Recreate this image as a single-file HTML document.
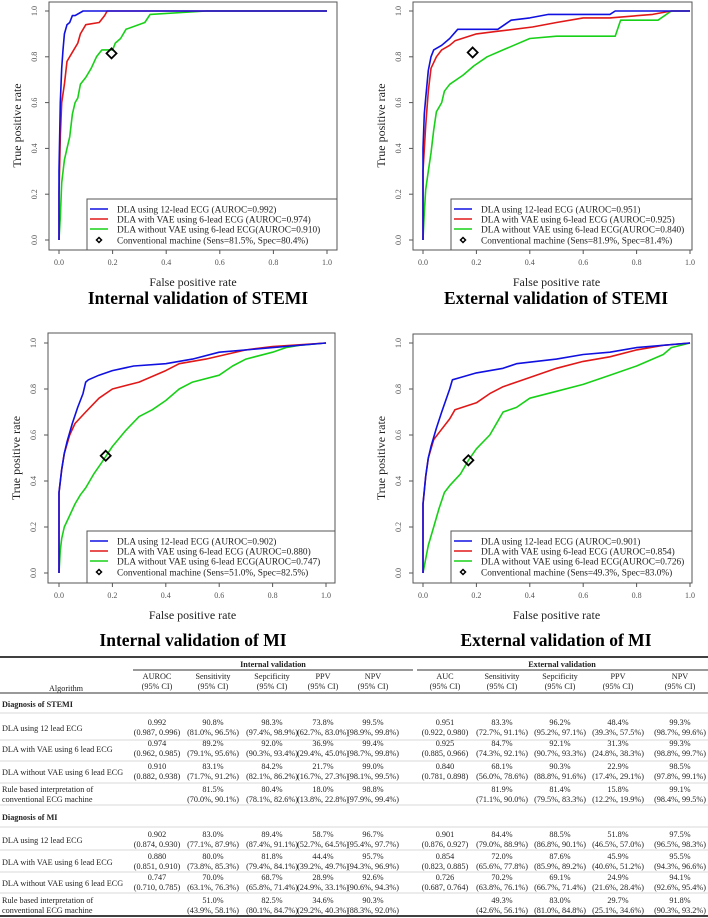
<!DOCTYPE html>
<html><head><meta charset="utf-8"><style>
html,body{margin:0;padding:0;background:#fff;}
svg{display:block;font-family:"Liberation Serif",serif;}
</style></head><body>
<svg id="root" width="708" height="918" viewBox="0 0 708 918"></svg>
<script>
// ---- Chart data (FPR / TPR arrays per series) ----
const c1BlueX=[0,0,0.005,0.01,0.015,0.02,0.03,0.04,0.05,0.06,0.09,0.18,1];
const c1BlueY=[0,0.3,0.6,0.75,0.83,0.9,0.94,0.95,0.98,0.98,1,1,1];
const c1RedX=[0,0,0.005,0.01,0.02,0.03,0.05,0.07,0.08,0.1,0.15,0.17,0.18,0.55,1];
const c1RedY=[0,0.2,0.45,0.6,0.68,0.78,0.82,0.86,0.9,0.94,0.95,0.98,1,1,1];
const c1GreenX=[0,0.005,0.01,0.02,0.03,0.04,0.05,0.06,0.07,0.08,0.1,0.12,0.14,0.16,0.2,0.21,0.23,0.25,0.32,0.34,0.55,1];
const c1GreenY=[0,0.1,0.25,0.35,0.4,0.45,0.55,0.6,0.62,0.68,0.71,0.75,0.8,0.83,0.83,0.86,0.88,0.92,0.95,0.985,1,1];
const c1Point=[0.196,0.815];

const c2BlueX=[0,0,0.005,0.01,0.02,0.03,0.04,0.07,0.1,0.13,0.28,0.33,0.4,0.47,0.7,0.72,1];
const c2BlueY=[0,0.4,0.55,0.62,0.74,0.8,0.83,0.85,0.88,0.92,0.92,0.96,0.97,0.985,0.985,1,1];
const c2RedX=[0,0,0.01,0.02,0.03,0.05,0.07,0.1,0.12,0.2,0.27,0.41,0.5,0.6,0.7,0.86,0.93,1];
const c2RedY=[0,0.3,0.5,0.65,0.75,0.8,0.83,0.85,0.87,0.9,0.91,0.93,0.95,0.97,0.97,0.985,1,1];
const c2GreenX=[0,0.005,0.01,0.02,0.03,0.04,0.05,0.07,0.08,0.1,0.15,0.19,0.24,0.3,0.4,0.5,0.72,0.74,0.88,0.93,1];
const c2GreenY=[0,0.12,0.22,0.3,0.38,0.48,0.56,0.6,0.65,0.68,0.72,0.76,0.8,0.83,0.88,0.89,0.89,0.96,0.96,1,1];
const c2Point=[0.186,0.819];

const c3BlueX=[0,0,0.01,0.02,0.03,0.05,0.07,0.09,0.1,0.11,0.15,0.2,0.28,0.4,0.5,0.6,0.8,1];
const c3BlueY=[0,0.35,0.45,0.52,0.57,0.65,0.72,0.78,0.83,0.84,0.86,0.88,0.9,0.91,0.93,0.96,0.98,1];
const c3RedX=[0,0,0.01,0.02,0.04,0.06,0.1,0.15,0.2,0.3,0.4,0.45,0.55,0.7,0.8,1];
const c3RedY=[0,0.35,0.45,0.52,0.6,0.65,0.7,0.76,0.8,0.83,0.88,0.91,0.93,0.97,0.985,1];
const c3GreenX=[0,0.005,0.01,0.02,0.04,0.06,0.08,0.1,0.13,0.16,0.2,0.25,0.3,0.35,0.4,0.45,0.5,0.6,0.65,0.7,0.8,0.85,0.9,1];
const c3GreenY=[0,0.1,0.15,0.2,0.25,0.3,0.34,0.37,0.43,0.48,0.55,0.62,0.68,0.71,0.75,0.8,0.83,0.86,0.9,0.93,0.96,0.98,0.99,1];
const c3Point=[0.175,0.51];

const c4BlueX=[0,0,0.01,0.02,0.03,0.05,0.07,0.1,0.11,0.14,0.2,0.3,0.35,0.5,0.6,0.7,0.8,1];
const c4BlueY=[0,0.3,0.42,0.5,0.55,0.63,0.7,0.8,0.84,0.85,0.87,0.89,0.91,0.93,0.95,0.96,0.98,1];
const c4RedX=[0,0,0.01,0.02,0.04,0.06,0.1,0.12,0.2,0.25,0.3,0.4,0.5,0.6,0.7,0.8,0.9,1];
const c4RedY=[0,0.3,0.42,0.5,0.58,0.61,0.67,0.71,0.74,0.78,0.81,0.85,0.89,0.92,0.94,0.97,0.99,1];
const c4GreenX=[0,0.005,0.02,0.04,0.06,0.08,0.1,0.14,0.17,0.2,0.25,0.28,0.3,0.35,0.4,0.5,0.6,0.7,0.8,0.9,0.93,1];
const c4GreenY=[0,0.03,0.12,0.2,0.28,0.35,0.38,0.43,0.49,0.54,0.6,0.66,0.7,0.72,0.76,0.79,0.82,0.86,0.9,0.95,0.98,1];
const c4Point=[0.17,0.49];

const tickLabels=["0.0","0.2","0.4","0.6","0.8","1.0"];
const tickValues=[0,0.2,0.4,0.6,0.8,1];
const legend1=["DLA using 12-lead ECG (AUROC=0.992)","DLA with VAE using 6-lead ECG (AUROC=0.974)","DLA without VAE using 6-lead ECG(AUROC=0.910)","Conventional machine (Sens=81.5%, Spec=80.4%)"];
const legend2=["DLA using 12-lead ECG (AUROC=0.951)","DLA with VAE using 6-lead ECG (AUROC=0.925)","DLA without VAE using 6-lead ECG(AUROC=0.840)","Conventional machine (Sens=81.9%, Spec=81.4%)"];
const legend3=["DLA using 12-lead ECG (AUROC=0.902)","DLA with VAE using 6-lead ECG (AUROC=0.880)","DLA without VAE using 6-lead ECG(AUROC=0.747)","Conventional machine (Sens=51.0%, Spec=82.5%)"];
const legend4=["DLA using 12-lead ECG (AUROC=0.901)","DLA with VAE using 6-lead ECG (AUROC=0.854)","DLA without VAE using 6-lead ECG(AUROC=0.726)","Conventional machine (Sens=49.3%, Spec=83.0%)"];

const NS="http://www.w3.org/2000/svg";
const root=document.getElementById('root');
function mk(tag,attrs,parent,text){const e=document.createElementNS(NS,tag);for(const k in attrs)e.setAttribute(k,attrs[k]);if(text!==undefined)e.textContent=text;(parent||root).appendChild(e);return e;}

function drawChart(name,g,series,pt,legend,title){
  const grp=mk('g',{});
  
  
  const sx=v=>g.x0+v*(g.x1-g.x0);
  const sy=v=>g.y0-v*(g.y0-g.y1);
  const box=mk('rect',{x:g.bl,y:g.bt,width:g.br-g.bl,height:g.bb-g.bt,fill:'none',stroke:'#555','stroke-width':1},grp);
  
  
  tickValues.forEach((v,i)=>{
    const t=mk('text',{x:sx(v),y:g.bb+15,'font-size':8,fill:'#555','text-anchor':'middle'},grp,tickLabels[i]);
    
    
    mk('line',{x1:sx(v),x2:sx(v),y1:g.bb,y2:g.bb+4,stroke:'#555'},grp);
    const ty=mk('text',{x:0,y:0,'font-size':8,fill:'#555','text-anchor':'middle',transform:`translate(${g.bl-12},${sy(v)}) rotate(-90)`},grp,tickLabels[i]);
    
    
    mk('line',{x1:g.bl-4,x2:g.bl,y1:sy(v),y2:sy(v),stroke:'#555'},grp);
  });
  const xl=mk('text',{x:(g.x0+g.x1)/2,y:g.bb+36,'font-size':12,fill:'#222','text-anchor':'middle'},grp,'False positive rate');
  
  
  const yl=mk('text',{x:0,y:0,'font-size':12,fill:'#222','text-anchor':'middle',transform:`translate(${g.bl-28},${(g.y0+g.y1)/2}) rotate(-90)`},grp,'True positive rate');
  
  
  const colors=['#1010e0','#e01818','#18d018'];
  const snames=['curve-12-lead','curve-vae-6-lead','curve-no-vae-6-lead'];
  [2,1,0].forEach(i=>{
    const xs=series[i][0],ys=series[i][1];
    const pts=xs.map((x,j)=>sx(x).toFixed(1)+','+sy(ys[j]).toFixed(1)).join(' ');
    const pl=mk('polyline',{points:pts,fill:'none',stroke:colors[i],'stroke-width':1.6,'stroke-linejoin':'round'},grp);
    
    
  });
  const px=sx(pt[0]),py=sy(pt[1]);
  const d=mk('polygon',{points:`${px},${py-5} ${px+5},${py} ${px},${py+5} ${px-5},${py}`,fill:'none',stroke:'#000','stroke-width':1.8},grp);
  
  
  const lg=mk('g',{},grp);
  
  
  mk('rect',{x:g.ll,y:g.lt,width:g.br-g.ll,height:g.bb-g.lt,fill:'#fff',stroke:'#555','stroke-width':1},lg);
  const rows=[10,20,30,41];
  legend.forEach((s,i)=>{
    const yy=g.lt+rows[i];
    if(i<3){mk('line',{x1:g.ll+3,x2:g.ll+21,y1:yy,y2:yy,stroke:colors[i],'stroke-width':1.6},lg);}
    else{mk('polygon',{points:`${g.ll+12},${yy-2.5} ${g.ll+14.5},${yy} ${g.ll+12},${yy+2.5} ${g.ll+9.5},${yy}`,fill:'none',stroke:'#000','stroke-width':1.5},lg);}
    const t=mk('text',{x:g.ll+30,y:yy+3.5,'font-size':9.3,fill:'#222'},lg,s);
    
    
  });
  const tt=mk('text',{x:g.tx,y:g.ty,'font-size':17.5,'font-weight':'bold',fill:'#000','text-anchor':'middle'},grp,title);
  
  
}

drawChart('roc-internal-stemi',{bl:49,br:337,bt:2,bb:250,x0:59,x1:327,y1:11,y0:240,ll:87,lt:199,tx:198,ty:304},
  [[c1BlueX,c1BlueY],[c1RedX,c1RedY],[c1GreenX,c1GreenY]],c1Point,legend1,'Internal validation of STEMI');
drawChart('roc-external-stemi',{bl:413,br:692,bt:2,bb:250,x0:423,x1:690,y1:11,y0:240,ll:451,lt:199,tx:556,ty:304},
  [[c2BlueX,c2BlueY],[c2RedX,c2RedY],[c2GreenX,c2GreenY]],c2Point,legend2,'External validation of STEMI');
drawChart('roc-internal-mi',{bl:48,br:335,bt:333,bb:583,x0:59,x1:326,y1:343,y0:573,ll:87,lt:531,tx:193,ty:646},
  [[c3BlueX,c3BlueY],[c3RedX,c3RedY],[c3GreenX,c3GreenY]],c3Point,legend3,'Internal validation of MI');
drawChart('roc-external-mi',{bl:413,br:692,bt:334,bb:583,x0:423,x1:690,y1:343,y0:573,ll:451,lt:531,tx:556,ty:646},
  [[c4BlueX,c4BlueY],[c4RedX,c4RedY],[c4GreenX,c4GreenY]],c4Point,legend4,'External validation of MI');

// ---- Table ----
const colX=[157,213,272,323,373,445,502,560,618,680];
const headTop=["AUROC","Sensitivity","Sepcificity","PPV","NPV","AUC","Sensitivity","Sepcificity","PPV","NPV"];
const rowLabels=["DLA using 12 lead ECG","DLA with VAE using 6 lead ECG","DLA without VAE using 6 lead ECG","Rule based interpretation of|conventional ECG machine"];
const stemiVals=[
 ["0.992","90.8%","98.3%","73.8%","99.5%","0.951","83.3%","96.2%","48.4%","99.3%"],
 ["0.974","89.2%","92.0%","36.9%","99.4%","0.925","84.7%","92.1%","31.3%","99.3%"],
 ["0.910","83.1%","84.2%","21.7%","99.0%","0.840","68.1%","90.3%","22.9%","98.5%"],
 ["","81.5%","80.4%","18.0%","98.8%","","81.9%","81.4%","15.8%","99.1%"]];
const stemiCI=[
 ["(0.987, 0.996)","(81.0%, 96.5%)","(97.4%, 98.9%)","(62.7%, 83.0%)","(98.9%, 99.8%)","(0.922, 0.980)","(72.7%, 91.1%)","(95.2%, 97.1%)","(39.3%, 57.5%)","(98.7%, 99.6%)"],
 ["(0.962, 0.985)","(79.1%, 95.6%)","(90.3%, 93.4%)","(29.4%, 45.0%)","(98.7%, 99.8%)","(0.885, 0.966)","(74.3%, 92.1%)","(90.7%, 93.3%)","(24.8%, 38.3%)","(98.8%, 99.7%)"],
 ["(0.882, 0.938)","(71.7%, 91.2%)","(82.1%, 86.2%)","(16.7%, 27.3%)","(98.1%, 99.5%)","(0.781, 0.898)","(56.0%, 78.6%)","(88.8%, 91.6%)","(17.4%, 29.1%)","(97.8%, 99.1%)"],
 ["","(70.0%, 90.1%)","(78.1%, 82.6%)","(13.8%, 22.8%)","(97.9%, 99.4%)","","(71.1%, 90.0%)","(79.5%, 83.3%)","(12.2%, 19.9%)","(98.4%, 99.5%)"]];
const miVals=[
 ["0.902","83.0%","89.4%","58.7%","96.7%","0.901","84.4%","88.5%","51.8%","97.5%"],
 ["0.880","80.0%","81.8%","44.4%","95.7%","0.854","72.0%","87.6%","45.9%","95.5%"],
 ["0.747","70.0%","68.7%","28.9%","92.6%","0.726","70.2%","69.1%","24.9%","94.1%"],
 ["","51.0%","82.5%","34.6%","90.3%","","49.3%","83.0%","29.7%","91.8%"]];
const miCI=[
 ["(0.874, 0.930)","(77.1%, 87.9%)","(87.4%, 91.1%)","(52.7%, 64.5%)","(95.4%, 97.7%)","(0.876, 0.927)","(79.0%, 88.9%)","(86.8%, 90.1%)","(46.5%, 57.0%)","(96.5%, 98.3%)"],
 ["(0.851, 0.910)","(73.8%, 85.3%)","(79.4%, 84.1%)","(39.2%, 49.7%)","(94.3%, 96.9%)","(0.823, 0.885)","(65.6%, 77.8%)","(85.9%, 89.2%)","(40.6%, 51.2%)","(94.3%, 96.6%)"],
 ["(0.710, 0.785)","(63.1%, 76.3%)","(65.8%, 71.4%)","(24.9%, 33.1%)","(90.6%, 94.3%)","(0.687, 0.764)","(63.8%, 76.1%)","(66.7%, 71.4%)","(21.6%, 28.4%)","(92.6%, 95.4%)"],
 ["","(43.9%, 58.1%)","(80.1%, 84.7%)","(29.2%, 40.3%)","(88.3%, 92.0%)","","(42.6%, 56.1%)","(81.0%, 84.8%)","(25.1%, 34.6%)","(90.3%, 93.2%)"]];

const tb=mk('g',{'font-size':8.2,fill:'#222'});


mk('line',{x1:0,x2:708,y1:657,y2:657,stroke:'#000','stroke-width':1.6},tb);
mk('line',{x1:133,x2:413,y1:670,y2:670,stroke:'#333','stroke-width':1},tb);
mk('line',{x1:417,x2:708,y1:670,y2:670,stroke:'#333','stroke-width':1},tb);
mk('line',{x1:0,x2:708,y1:693,y2:693,stroke:'#333','stroke-width':1},tb);
const h1=mk('text',{x:273,y:667,'font-weight':'bold','text-anchor':'middle'},tb,'Internal validation');


const h2=mk('text',{x:562,y:667,'font-weight':'bold','text-anchor':'middle'},tb,'External validation');


mk('text',{x:66,y:691,'text-anchor':'middle'},tb,'Algorithm');
headTop.forEach((h,i)=>{
  const t=mk('text',{x:colX[i],y:679,'text-anchor':'middle'},tb,h);
  
  
  mk('text',{x:colX[i],y:689,'text-anchor':'middle'},tb,'(95% CI)');
});
function section(title,ty,rowTops,vals,cis,seps){
  const s=mk('text',{x:2,y:ty,'font-weight':'bold'},tb,title);
  
  
  rowTops.forEach((y,r)=>{
    const lab=rowLabels[r].split('|');
    if(lab.length===1){mk('text',{x:2,y:y+9},tb,lab[0]);}
    else{mk('text',{x:2,y:y+3},tb,lab[0]);mk('text',{x:2,y:y+13},tb,lab[1]);}
    vals[r].forEach((v,i)=>{if(v)mk('text',{x:colX[i],y:y+3,'text-anchor':'middle'},tb,v);});
    cis[r].forEach((v,i)=>{if(v)mk('text',{x:colX[i],y:y+13,'text-anchor':'middle'},tb,v);});
  });
  seps.forEach(y=>mk('line',{x1:0,x2:708,y1:y,y2:y,stroke:'#ccc','stroke-width':0.8},tb));
}
section('Diagnosis of STEMI',707,[722,743,766,789],stemiVals,stemiCI,[713,740,761,783,805]);
section('Diagnosis of MI',820,[834,856,877,900],miVals,miCI,[827,850,872,893]);
mk('line',{x1:0,x2:708,y1:916,y2:916,stroke:'#000','stroke-width':1.6},tb);
</script>
</body></html>
